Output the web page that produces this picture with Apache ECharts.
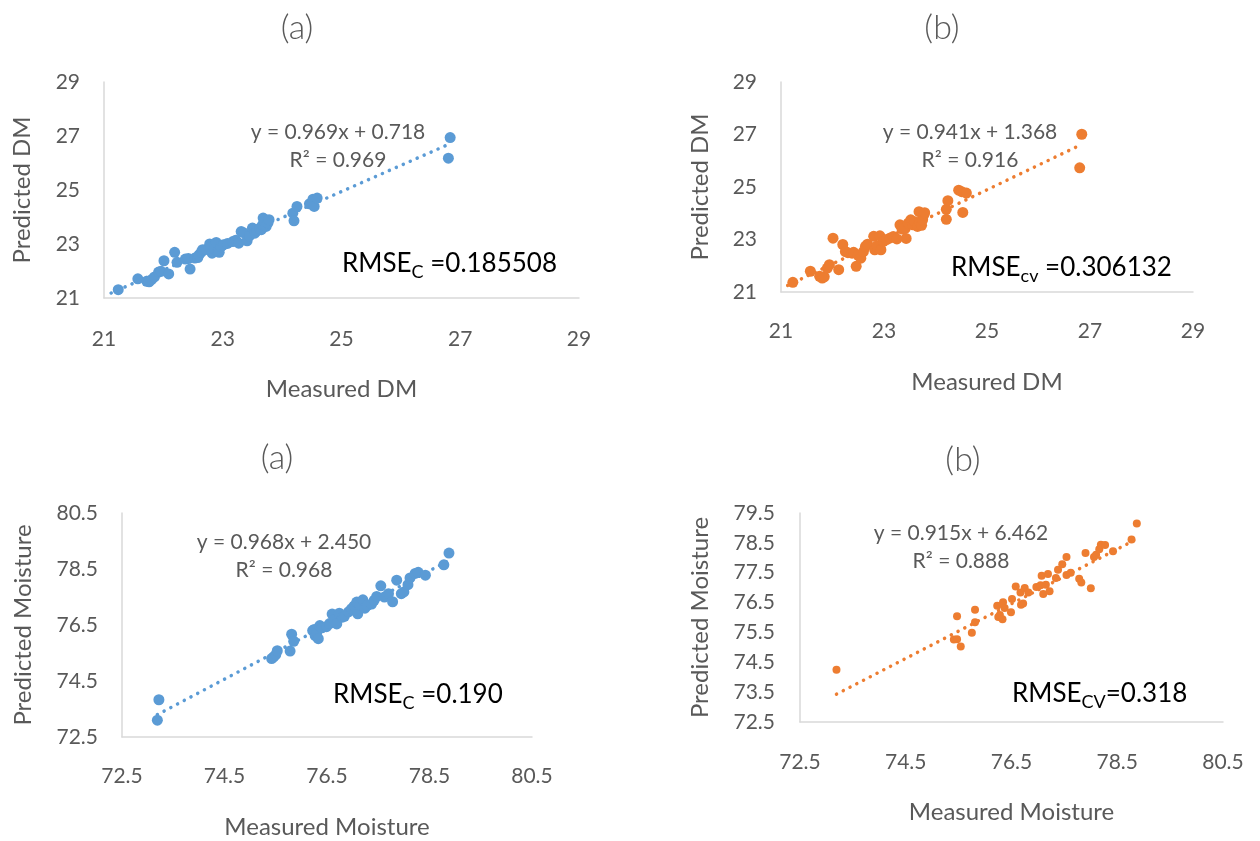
<!DOCTYPE html>
<html>
<head>
<meta charset="utf-8">
<script src="https://cdn.jsdelivr.net/npm/echarts@6/dist/echarts.min.js"></script>
<style>
  html, body { margin: 0; padding: 0; background: #fff; }
  #chart { width: 1260px; height: 841px; }
</style>
</head>
<body>
<div id="chart"></div>
<script>
// measured vs predicted
var dmCal = [
  [21.24,21.31],[21.57,21.71],[21.72,21.62],[21.76,21.60],[21.80,21.68],[21.85,21.78],[21.92,21.96],[21.96,21.99],
  [22.01,22.38],[22.09,21.89],[22.19,22.69],[22.23,22.32],[22.37,22.44],[22.42,22.46],[22.45,22.07],[22.53,22.48],
  [22.58,22.50],[22.60,22.60],[22.64,22.70],[22.66,22.79],[22.72,22.80],[22.78,23.00],[22.80,22.88],[22.82,22.66],
  [22.86,22.82],[22.89,23.06],[22.92,22.72],[22.94,22.69],[22.97,22.90],[23.01,22.97],[23.08,23.02],[23.17,23.09],
  [23.22,23.14],[23.27,23.03],[23.31,23.46],[23.35,23.42],[23.41,23.12],[23.45,23.30],[23.50,23.59],[23.54,23.40],
  [23.58,23.50],[23.62,23.58],[23.65,23.53],[23.67,23.71],[23.68,23.96],[23.70,23.85],[23.73,23.65],[23.76,23.77],
  [23.78,23.90],[24.18,24.14],[24.20,23.86],[24.25,24.39],[24.46,24.49],[24.52,24.66],[24.54,24.39],[24.59,24.70],
  [26.83,26.94],[26.80,26.18]
];
var dmCv = [
  [21.23,21.37],[21.57,21.79],[21.75,21.60],[21.80,21.53],[21.84,21.58],[21.90,21.91],[21.94,22.04],[22.01,23.05],
  [22.12,21.85],[22.20,22.81],[22.25,22.54],[22.30,22.50],[22.38,22.48],[22.41,22.51],[22.46,21.98],[22.50,22.40],
  [22.55,22.29],[22.60,22.54],[22.64,22.74],[22.68,22.82],[22.80,23.12],[22.82,22.61],[22.86,22.75],[22.92,23.14],
  [22.94,22.61],[22.99,22.93],[23.05,23.00],[23.12,23.06],[23.18,23.11],[23.25,23.02],[23.31,23.56],[23.35,23.40],
  [23.41,23.42],[23.43,23.04],[23.47,23.62],[23.52,23.75],[23.56,23.56],[23.60,23.68],[23.65,23.50],[23.68,24.06],
  [23.70,23.65],[23.73,23.54],[23.75,23.75],[23.77,23.92],[23.79,24.02],[24.21,24.15],[24.21,23.77],[24.24,24.48],
  [24.45,24.88],[24.51,24.82],[24.53,24.03],[24.60,24.77],[26.84,27.01],[26.80,25.73]
];
var moistCal = [
  [73.19,73.10],[73.22,73.83],[75.42,75.30],[75.46,75.36],[75.50,75.44],[75.53,75.58],[75.78,75.57],[75.81,76.17],
  [75.85,75.92],[76.22,76.30],[76.25,76.34],[76.27,76.12],[76.30,76.22],[76.33,76.01],[76.36,76.48],[76.40,76.40],
  [76.49,76.44],[76.55,76.55],[76.60,76.89],[76.64,76.70],[76.69,76.54],[76.74,76.92],[76.80,76.78],[76.84,76.81],
  [76.92,76.97],[76.98,77.08],[77.03,77.18],[77.08,77.32],[77.10,76.90],[77.14,77.22],[77.20,77.40],[77.24,77.10],
  [77.29,77.20],[77.37,77.25],[77.42,77.38],[77.47,77.52],[77.55,77.90],[77.62,77.50],[77.70,77.62],[77.78,77.33],
  [77.86,78.10],[77.95,77.62],[78.00,77.68],[78.08,77.94],[78.12,78.18],[78.22,78.34],[78.28,78.38],[78.42,78.28],
  [78.78,78.65],[78.88,79.07]
];
var moistCv = [
  [73.19,74.25],[75.41,75.26],[75.47,75.27],[75.47,76.04],[75.54,75.03],[75.75,75.49],[75.81,76.26],[75.81,75.84],
  [76.23,76.39],[76.25,76.02],[76.28,76.08],[76.33,75.94],[76.34,76.51],[76.37,76.32],[76.49,76.18],[76.51,76.62],
  [76.58,77.04],[76.67,76.84],[76.68,76.43],[76.72,76.47],[76.75,76.99],[76.82,76.84],[76.97,77.02],[77.05,77.08],
  [77.07,77.40],[77.10,76.79],[77.15,77.10],[77.19,77.46],[77.22,76.88],[77.34,77.32],[77.38,77.60],[77.46,77.78],
  [77.54,78.03],[77.54,77.42],[77.62,77.50],[77.78,77.30],[77.82,77.17],[77.90,78.16],[78.00,76.98],[78.06,78.03],
  [78.10,78.10],[78.16,78.29],[78.19,78.44],[78.27,78.43],[78.42,78.22],[78.77,78.61],[78.87,79.15]
];

// trendline [slope, intercept] and the x span it is drawn over
var fitDmCal = [0.969, 0.718],    spanDmCal = [21.12, 26.83];
var fitDmCv = [0.941, 1.368],     spanDmCv = [21.13, 26.84];
var fitMoistCal = [0.968, 2.450], spanMoistCal = [73.19, 78.88];
var fitMoistCv = [0.915, 6.462],  spanMoistCv = [73.19, 78.87];

var titles = ['(a)', '(b)', '(a)', '(b)'];
var eqText = ['y = 0.969x + 0.718', 'y = 0.941x + 1.368', 'y = 0.968x + 2.450', 'y = 0.915x + 6.462'];
var r2Text = ['R² = 0.969', 'R² = 0.916', 'R² = 0.968', 'R² = 0.888'];
var rmse = [['C', ' =0.185508'], ['cv', ' =0.306132'], ['C', ' =0.190'], ['CV', '=0.318']];

var FONT = 'Lato';
var GREY = '#595959';
var blue = '#5b9bd5', orange = '#ed7d31';

function fitLine(fit, span) {
  return span.map(function (x) { return [x, fit[0] * x + fit[1]]; });
}

function axis(gi, min, max, interval, name, gap, margin) {
  return {
    gridIndex: gi, type: 'value', min: min, max: max, interval: interval,
    name: name, nameLocation: 'middle', nameGap: gap,
    nameTextStyle: {color: GREY, fontSize: 24, fontFamily: FONT},
    axisLine: {show: true, lineStyle: {color: '#d9d9d9', width: 1.5}},
    axisTick: {show: false}, splitLine: {show: false},
    axisLabel: {color: GREY, fontSize: 21, fontFamily: FONT, margin: margin}
  };
}

function scatter(i, data, color, size) {
  return {type: 'scatter', xAxisIndex: i, yAxisIndex: i, data: data, symbolSize: size,
    itemStyle: {color: color, opacity: 1}, silent: true, z: 3};
}
function trend(i, data, color) {
  return {type: 'line', xAxisIndex: i, yAxisIndex: i, data: data, symbol: 'none', silent: true, z: 2,
    lineStyle: {color: color, width: 3.5, type: [0.1, 7.5], cap: 'round'}};
}

// text placements: [title x,y], [equation centre x,y], [rmse left x, centre y]
var pos = [
  {t: [297, 28], e: [338, 132], r: [342, 264]},
  {t: [942, 28], e: [970, 132], r: [951, 268]},
  {t: [277, 458], e: [284, 542], r: [333, 695]},
  {t: [963, 460], e: [961, 533], r: [1012, 694]}
];

var graphic = [];
pos.forEach(function (p, i) {
  graphic.push({type: 'text', x: p.t[0], y: p.t[1],
    style: {text: titles[i], fill: GREY, font: '300 34px ' + FONT, textAlign: 'center', textVerticalAlign: 'middle'}});
  graphic.push({type: 'text', x: p.e[0], y: p.e[1],
    style: {text: eqText[i], fill: GREY, font: '21px ' + FONT, textAlign: 'center', textVerticalAlign: 'middle'}});
  graphic.push({type: 'text', x: p.e[0], y: p.e[1] + 28,
    style: {text: r2Text[i], fill: GREY, font: '21px ' + FONT, textAlign: 'center', textVerticalAlign: 'middle'}});
  graphic.push({type: 'text', x: p.r[0], y: p.r[1],
    style: {
      text: '{a|RMSE}{s|' + rmse[i][0] + '}{a|' + rmse[i][1] + '}',
      textAlign: 'left', textVerticalAlign: 'middle',
      rich: {
        a: {fontSize: 26, fontFamily: FONT, fill: '#000', lineHeight: 34, verticalAlign: 'middle'},
        s: {fontSize: 18, fontFamily: FONT, fill: '#000', lineHeight: 34, verticalAlign: 'bottom'}
      }
    }});
});

var option = {
  backgroundColor: '#fff',
  animation: false,
  grid: [
    {left: 104, top: 82, width: 475, height: 216},
    {left: 781, top: 82, width: 412, height: 210},
    {left: 122, top: 513, width: 410, height: 224},
    {left: 800, top: 513, width: 423, height: 209}
  ],
  xAxis: [
    axis(0, 21, 29, 2, 'Measured DM', 79, 31),
    axis(1, 21, 29, 2, 'Measured DM', 78, 29),
    axis(2, 72.5, 80.5, 2, 'Measured Moisture', 78, 29),
    axis(3, 72.5, 80.5, 2, 'Measured Moisture', 78, 30)
  ],
  yAxis: [
    axis(0, 21, 29, 2, 'Predicted DM', 70, 24),
    axis(1, 21, 29, 2, 'Predicted DM', 69, 24),
    axis(2, 72.5, 80.5, 2, 'Predicted Moisture', 87, 24),
    axis(3, 72.5, 79.5, 1, 'Predicted Moisture', 88, 25)
  ],
  series: [
    trend(0, fitLine(fitDmCal, spanDmCal), blue),
    scatter(0, dmCal, blue, 11),
    trend(1, fitLine(fitDmCv, spanDmCv), orange),
    scatter(1, dmCv, orange, 11),
    trend(2, fitLine(fitMoistCal, spanMoistCal), blue),
    scatter(2, moistCal, blue, 11),
    trend(3, fitLine(fitMoistCv, spanMoistCv), orange),
    scatter(3, moistCv, orange, 8)
  ],
  graphic: graphic
};

var myChart = echarts.init(document.getElementById('chart'));
myChart.setOption(option);
</script>
</body>
</html>
